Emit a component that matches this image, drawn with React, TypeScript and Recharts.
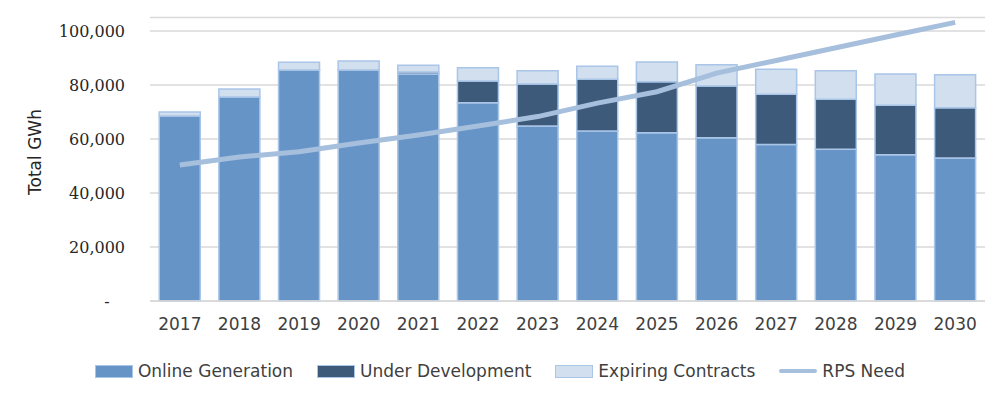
import {
  Bar,
  CartesianGrid,
  ComposedChart,
  Line,
  XAxis,
  YAxis
} from "recharts";

const years = ["2017", "2018", "2019", "2020", "2021", "2022", "2023", "2024", "2025", "2026", "2027", "2028", "2029", "2030"];
const onlineGeneration = [68500, 75600, 85600, 85600, 84100, 73400, 64800, 63000, 62300, 60500, 58000, 56200, 54200, 53000];
const underDevelopment = [0, 0, 0, 0, 700, 8100, 15600, 19100, 18900, 19100, 18600, 18500, 18300, 18600];
const expiringContracts = [1500, 2900, 2800, 3300, 2500, 4900, 4900, 4800, 7300, 7900, 9200, 10600, 11600, 12200];
const rpsNeed = [50400, 53300, 55300, 58500, 61500, 64800, 68300, 73300, 77500, 84400, 89100, 93800, 98500, 103200];
const yTicks = [0, 20000, 40000, 60000, 80000, 100000];

const data = years.map((year, i) => ({
  year,
  online: onlineGeneration[i],
  underDev: underDevelopment[i],
  expiring: expiringContracts[i],
  rps: rpsNeed[i]
}));

const colors = {
  online: "#6794c7",
  underDev: "#3e5a7a",
  expiring: "#d1dfef",
  barEdge: "#a9c5e7",
  line: "#a6bfdd",
  grid: "#d9d9d9",
  text: "#404040"
};

const sansFont = "'DejaVu Sans', sans-serif";

const legendItems = [
  { name: "Online Generation", color: colors.online, kind: "box" },
  { name: "Under Development", color: colors.underDev, kind: "box" },
  { name: "Expiring Contracts", color: colors.expiring, kind: "box" },
  { name: "RPS Need", color: colors.line, kind: "line" }
];

function formatTick(v: number) {
  if (v === 0) return "-\u00a0\u00a0\u00a0";
  return v.toLocaleString("en-US");
}

export default function App() {
  return (
    <div style={{ position: "absolute", left: 0, top: 0, width: 1000, height: 394, background: "#fff" }}>
      <ComposedChart
        width={1000}
        height={394}
        data={data}
        margin={{ top: 17.5, right: 15, left: 0, bottom: 53 }}
        barCategoryGap="15.5%"
      >
        <CartesianGrid vertical={false} stroke={colors.grid} strokeWidth={1.3} />
        <XAxis
          dataKey="year"
          height={40}
          tickLine={false}
          tickSize={0}
          tickMargin={17}
          axisLine={{ stroke: colors.grid, strokeWidth: 1.5 }}
          tick={{ fill: colors.text, fontSize: 17, fontFamily: sansFont }}
          interval={0}
        />
        <YAxis
          width={150}
          domain={[0, 105000]}
          ticks={yTicks}
          tickFormatter={formatTick}
          axisLine={false}
          tickLine={false}
          tickSize={0}
          tickMargin={25}
          tick={{ fill: "#262626", fontSize: 16, fontFamily: "'DejaVu Serif', serif" }}
          label={{
            content: () => (
              <text
                x={35}
                y={152}
                transform="rotate(-90 35 152)"
                textAnchor="middle"
                dominantBaseline="central"
                fill="#262626"
                fontSize={17}
                fontFamily={sansFont}
              >
                Total GWh
              </text>
            )
          }}
        />
        <Bar dataKey="online" stackId="a" fill={colors.online} stroke={colors.barEdge} strokeWidth={1.5} isAnimationActive={false} />
        <Bar dataKey="underDev" stackId="a" fill={colors.underDev} stroke={colors.barEdge} strokeWidth={1.5} isAnimationActive={false} />
        <Bar dataKey="expiring" stackId="a" fill={colors.expiring} stroke={colors.barEdge} strokeWidth={1.5} isAnimationActive={false} />
        <Line
          dataKey="rps"
          type="linear"
          stroke={colors.line}
          strokeWidth={5}
          dot={false}
          isAnimationActive={false}
        />
      </ComposedChart>
      <div
        style={{
          position: "absolute",
          left: 0,
          top: 361,
          width: 1000,
          display: "flex",
          justifyContent: "center",
          alignItems: "center",
          gap: 24,
          fontFamily: sansFont,
          fontSize: 17,
          color: colors.text
        }}
      >
        {legendItems.map((item) => (
          <div key={item.name} style={{ display: "flex", alignItems: "center", gap: 5 }}>
            {item.kind === "box" ? (
              <span
                style={{
                  display: "inline-block",
                  width: 36,
                  height: 11,
                  background: item.color,
                  border: `1px solid ${colors.barEdge}`
                }}
              />
            ) : (
              <span style={{ display: "inline-block", width: 38, height: 4, background: item.color, borderRadius: 2 }} />
            )}
            <span>{item.name}</span>
          </div>
        ))}
      </div>
    </div>
  );
}
